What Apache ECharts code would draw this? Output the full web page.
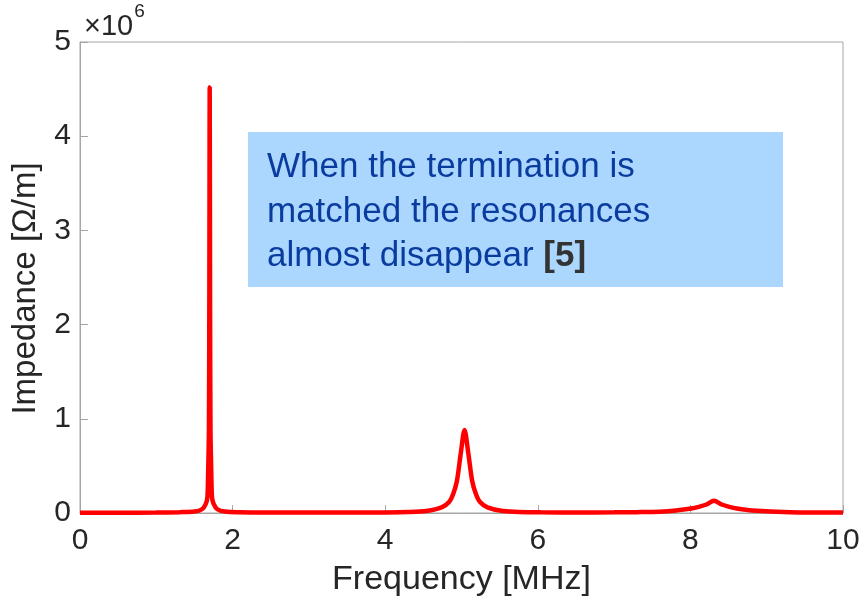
<!DOCTYPE html>
<html>
<head>
<meta charset="utf-8">
<script src="https://cdn.jsdelivr.net/npm/echarts@6/dist/echarts.min.js"></script>
<style>html,body{margin:0;padding:0;background:#fff}#c{width:863px;height:606px}</style>
</head>
<body>
<div id="c"></div>
<script>
// Frequency [MHz] sample points
var freqMHz = [0, 0.5, 1.0, 1.3, 1.5, 1.6, 1.65, 1.67, 1.68, 1.69, 1.695, 1.7, 1.705, 1.71, 1.72, 1.73, 1.75, 1.8, 1.9, 2.1, 2.5, 3.0, 3.5, 4.0, 4.3, 4.54, 4.74, 4.84, 4.89, 4.94, 4.99, 5.04, 5.09, 5.14, 5.19, 5.24, 5.34, 5.54, 6.04, 6.5, 7.0, 7.3, 7.6, 7.81, 8.01, 8.11, 8.21, 8.31, 8.41, 8.51, 8.61, 8.81, 9.31, 10];
// Impedance [Ω/m]
var impedance = [2000, 3000, 5000, 9000, 15000, 40000, 100000, 170000, 450000, 900000, 2250000, 4520000, 2250000, 900000, 450000, 170000, 100000, 40000, 15000, 8000, 5000, 4000, 4500, 6000, 10000, 22000, 60000, 120000, 200000, 340000, 630000, 880000, 630000, 340000, 200000, 120000, 60000, 22000, 7000, 6000, 7000, 9000, 14000, 26000, 47000, 65000, 90000, 130000, 90000, 65000, 47000, 26000, 8000, 4000];
var xTicks = [0, 2, 4, 6, 8, 10];
var yTicks = [0, 1, 2, 3, 4, 5];
var noteLines = ['When the termination is', 'matched the resonances', 'almost disappear '];
var noteRef = '[5]';

var data = freqMHz.map(function (f, i) { return [f, impedance[i]]; });
var chart = echarts.init(document.getElementById('c'), null, {renderer: 'canvas'});
var font = '"Liberation Sans", Arial, sans-serif';
chart.setOption({
  animation: false,
  grid: {left: 80, right: 20, top: 42, bottom: 93, show: true, borderColor: '#a6a6a6', borderWidth: 1,
         containLabel: false, outerBoundsMode: 'none'},
  xAxis: {
    type: 'value', min: 0, max: 10, interval: 2,
    name: 'Frequency [MHz]', nameLocation: 'middle', nameGap: 50,
    nameTextStyle: {fontFamily: font, fontSize: 34, color: '#262626'},
    axisLine: {lineStyle: {color: '#a6a6a6'}},
    axisTick: {inside: true, length: 8, lineStyle: {color: '#a6a6a6'}},
    axisLabel: {fontFamily: font, fontSize: 30, color: '#262626', margin: 13,
      formatter: function (v) { return xTicks.indexOf(v) >= 0 ? String(v) : ''; }},
    splitLine: {show: false}
  },
  yAxis: {
    type: 'value', min: 0, max: 5e6, interval: 1e6,
    name: 'Impedance [Ω/m]', nameLocation: 'middle', nameGap: 38,
    nameTextStyle: {fontFamily: font, fontSize: 33, color: '#262626', padding: [0, 22, 0, 0]},
    axisLine: {show: true, lineStyle: {color: '#a6a6a6'}},
    axisTick: {show: true, inside: true, length: 8, lineStyle: {color: '#a6a6a6'}},
    axisLabel: {fontFamily: font, fontSize: 30, color: '#262626', margin: 9,
      formatter: function (v) { var t = Math.round(v / 1e6); return yTicks.indexOf(t) >= 0 ? String(t) : ''; }},
    splitLine: {show: false}
  },
  series: [{
    type: 'line', data: data, showSymbol: false, smooth: 0.3,
    lineStyle: {color: '#ff0000', width: 4.5}, itemStyle: {color: '#ff0000'}
  }],
  graphic: [
    {type: 'text', left: 84, top: 2, style: {
      text: '{a|×10}{b|6}', rich: {
        a: {fontFamily: font, fontSize: 29, fill: '#262626', padding: [10, 0, 0, 0]},
        b: {fontFamily: font, fontSize: 19, fill: '#262626', verticalAlign: 'top', padding: [0, 0, 16, 1]}
      }}},
    {type: 'rect', shape: {x: 248, y: 132, width: 535, height: 155}, style: {fill: '#abd6fd'}},
    {type: 'text', left: 267, top: 150, style: {
      text: '{t|' + noteLines[0] + '}\n{t|' + noteLines[1] + '}\n{t|' + noteLines[2] + '}{r|' + noteRef + '}',
      rich: {
        t: {fontFamily: font, fontSize: 35, fill: '#0a3ca0', lineHeight: 44.5},
        r: {fontFamily: font, fontSize: 35, fontWeight: 'bold', fill: '#333333', lineHeight: 44.5}
      }}}
  ]
});
</script>
</body>
</html>
